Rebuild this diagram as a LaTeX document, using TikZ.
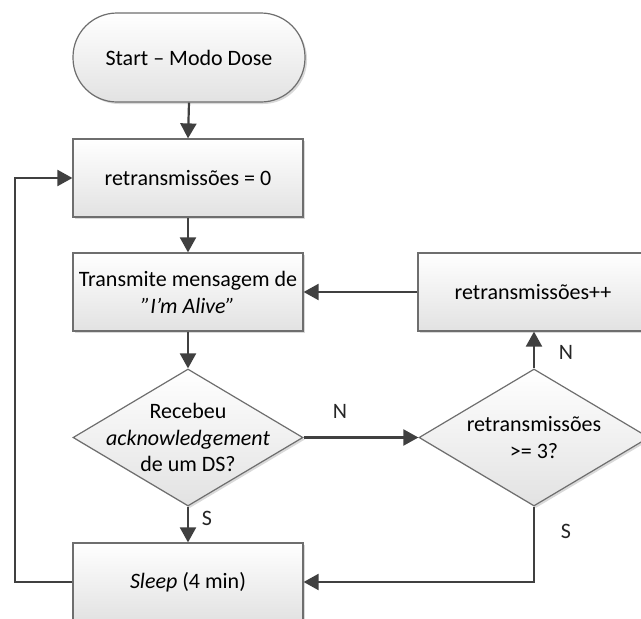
\documentclass[tikz,border=0pt]{standalone}
\usepackage{fontspec}
\setmainfont{Carlito}
\usetikzlibrary{arrows.meta,shapes.geometric,shadows}
\definecolor{edgegray}{HTML}{6E6E6E}
\definecolor{linegray}{HTML}{404040}
\definecolor{fillbot}{HTML}{E2E2E2}
\tikzset{
  shapebase/.style={draw=edgegray, line width=1.2pt, top color=white, bottom color=fillbot,
    drop shadow={shadow xshift=2pt, shadow yshift=-2pt, opacity=0.25, fill=black!60}},
  procbox/.style={shapebase, rectangle, minimum width=230pt, minimum height=78pt, inner sep=0pt,
    align=center, font=\fontsize{22}{27}\selectfont},
  termbox/.style={shapebase, rectangle, rounded corners=44pt, minimum width=232pt, minimum height=89pt,
    inner sep=0pt, font=\fontsize{22}{27}\selectfont},
  decbox/.style={shapebase, diamond, minimum width=230pt, minimum height=137pt, inner sep=0pt},
  dectext/.style={align=center, inner sep=0pt, font=\fontsize{22}{26.5}\selectfont},
  flow/.style={draw=linegray, line width=2.2pt, -{Triangle[length=15pt,width=16pt]}},
  tag/.style={inner sep=0pt, font=\fontsize{22}{26}\selectfont, text=black!85}
}
\begin{document}
\begin{tikzpicture}[x=1pt,y=-1pt]
\useasboundingbox (0,0) rectangle (641,619);
% shapes
\node[termbox] (start) at (189,57.5) {Start -- Modo Dose};
\node[procbox] (reset) at (188,178) {retransmissões = 0};
\node[procbox] (send) at (188,292) {Transmite mensagem de\\\textit{"I’m Alive"}};
\node[decbox] (ack) at (188,437.5) {};
\node[dectext] (acktxt) at (188,437.5) {Recebeu\\\textit{acknowledgement}\\de um DS?};
\node[procbox] (sleep) at (188,582) {\textit{Sleep} (4 min)};
\node[procbox] (incr) at (533,292) {retransmissões++};
\node[decbox] (limit) at (534,437.5) {};
\node[dectext] (limittxt) at (534,437.5) {retransmissões\\>= 3?};
% connectors
\draw[flow] (start.south) -- (reset.north);
\draw[flow] (reset.south) -- (send.north);
\draw[flow] (send.south) -- (ack.north);
\draw[flow] (ack.south) -- (sleep.north);
\draw[flow] (ack.east) -- (limit.west);
\draw[flow] (limit.north) -- (incr.south -| limit.north);
\draw[flow] (incr.west) -- (send.east);
\draw[flow] (limit.south) |- (sleep.east);
\coordinate (loopcorner) at (15,582);
\draw[flow] (sleep.west) -- (loopcorner) |- (reset.west);
% branch labels
\node[tag] (lblS1) at (207,518) {S};
\node[tag] (lblN1) at (340,411) {N};
\node[tag] (lblN2) at (566,352) {N};
\node[tag] (lblS2) at (566,531) {S};
\end{tikzpicture}
\end{document}
